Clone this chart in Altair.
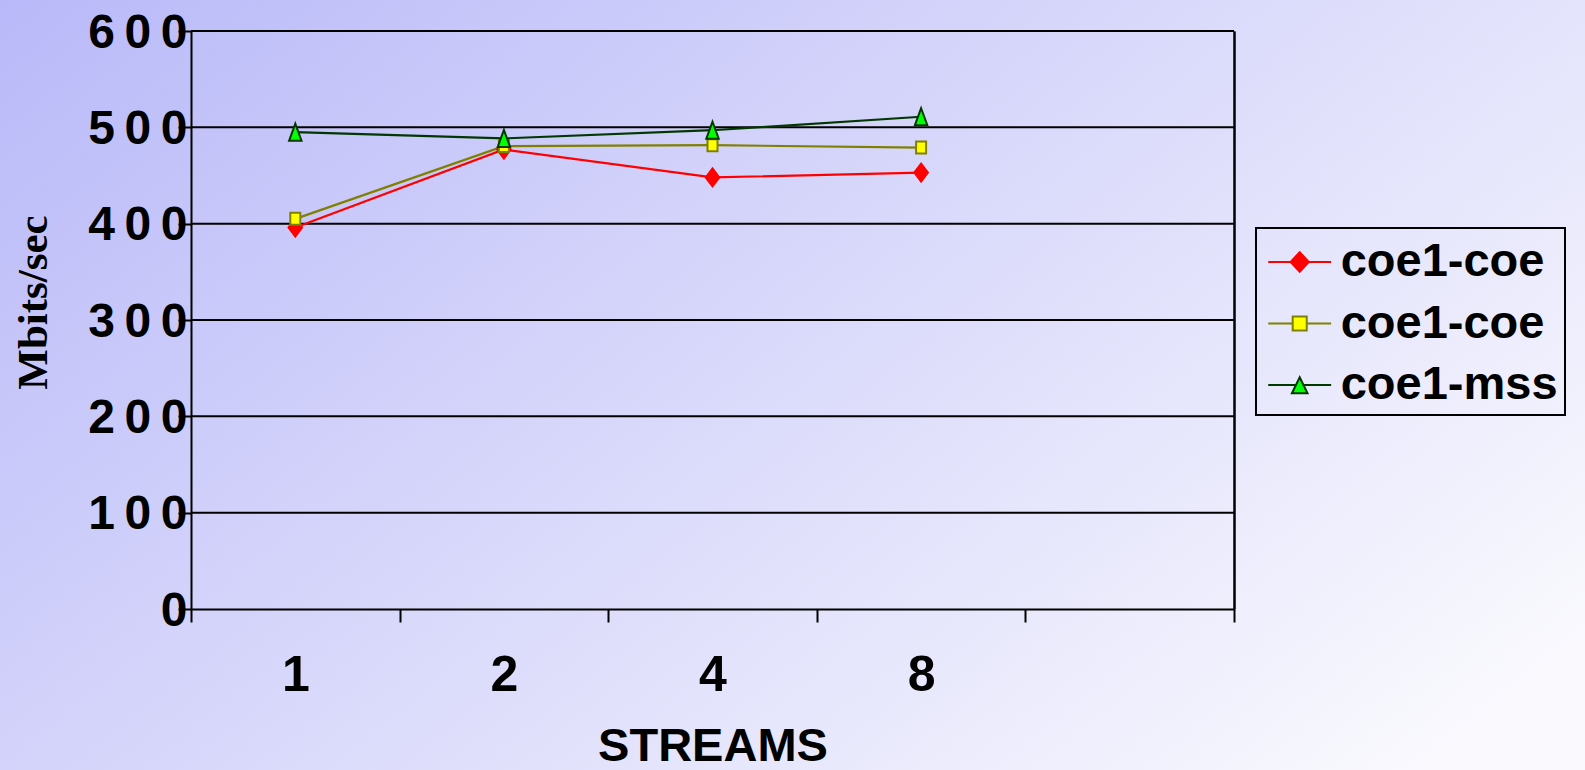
import altair as alt
import pandas as pd

# ---- data ----
streams = ["1", "2", "4", "8"]
x_categories = ["1", "2", "4", "8", " "]
series_names = ["coe1-coe2", "coe1-coe3", "coe1-mss1"]
red_vals = [396, 477, 448, 453]
yellow_vals = [405, 480.5, 481.5, 479]
green_vals = [495, 488.5, 497, 511]
grid_values = [100, 200, 300, 400, 500, 600]
y_ticks = [0, 100, 200, 300, 400, 500, 600]

# ---- styles ----
line_colors = ["#ff0000", "#808000", "#003800"]
fill_colors = ["#ff0000", "#ffff00", "#00ff00"]
stroke_colors = ["#ff0000", "#808000", "#003800"]
point_paths = [
    "M0,-0.9L0.68,0L0,0.9L-0.68,0Z",
    "M-0.5,-0.6L0.5,-0.6L0.5,0.6L-0.5,0.6Z",
    "M0,-0.85L0.62,0.85L-0.62,0.85Z",
]
legend_paths = [
    "M-1.21,0L1.21,0M0,-0.38L0.35,0L0,0.38L-0.35,0Z",
    "M-1.21,0L-0.27,0M0.27,0L1.21,0M-0.27,-0.27L0.27,-0.27L0.27,0.27L-0.27,0.27Z",
    "M-1.21,0L-0.16,0M0.16,0L1.21,0M0,-0.30L0.30,0.32L-0.30,0.32Z",
]

rows = []
for name, vals in zip(series_names, [red_vals, yellow_vals, green_vals]):
    for s, v in zip(streams, vals):
        rows.append({"series": name, "streams": s, "value": v})
df = pd.DataFrame(rows)

W, H = 1043, 578
PL, PT, PR, PB = 191, 31, 351, 161

xscale = alt.Scale(type="band", domain=x_categories, paddingInner=0, paddingOuter=0)
yscale = alt.Scale(domain=[0, 600], nice=False, zero=True)

THIN = "\u2009"

bg = alt.Chart(alt.Data(values=[{"k": 1}])).mark_rect(
    fill=alt.LinearGradient(
        gradient="linear",
        stops=[
            alt.GradientStop(color="#b9b9f9", offset=0),
            alt.GradientStop(color="#d9d9fb", offset=0.5),
            alt.GradientStop(color="#f9f9fe", offset=1),
        ],
        x1=0, y1=0, x2=1.1, y2=0.66,
    ),
    strokeWidth=0,
).encode(
    x=alt.value(-PL), x2=alt.value(W + PR),
    y=alt.value(-PT), y2=alt.value(H + PB),
)

left_axis = alt.Axis(
    orient="left", values=y_ticks, grid=False,
    domain=True, domainColor="black", domainWidth=2,
    ticks=True, tickColor="black", tickWidth=2, tickSize=13,
    labelFont="Liberation Sans", labelFontSize=48, labelFontWeight="bold",
    labelColor="black", labelAlign="right", labelBaseline="middle",
    labelPadding=-9, labelOffset=2,
    labelExpr="join(split(datum.label, ''), '" + THIN + "')",
    title="Mbits/sec", titleFont="Liberation Serif", titleFontSize=43,
    titleFontWeight="bold", titleColor="black", titleAngle=270,
    titleAlign="center", titleBaseline="middle", titleX=-158, titleY=271,
    zindex=1,
)

grid = alt.Chart(pd.DataFrame({"v": grid_values})).mark_rule(
    color="black", strokeWidth=2
).encode(y=alt.Y("v:Q", scale=yscale, axis=left_axis))

bottom_axis = alt.Axis(
    orient="bottom", tickBand="extent", grid=False,
    domain=True, domainColor="black", domainWidth=2,
    ticks=True, tickColor="black", tickWidth=2, tickSize=13,
    labelFont="Liberation Sans", labelFontSize=50, labelFontWeight="bold",
    labelColor="black", labelBaseline="alphabetic", labelPadding=68, labelAngle=0,
    title="STREAMS", titleFont="Liberation Sans", titleFontSize=47,
    titleFontWeight="bold", titleColor="black", titleBaseline="alphabetic",
    titleY=151, zindex=1,
)

right_axis = alt.Axis(
    orient="right", labels=False, ticks=False, grid=False,
    domain=True, domainColor="black", domainWidth=2, title=None, zindex=1,
)

lines = alt.Chart(df).mark_line(strokeWidth=2.2).encode(
    x=alt.X("streams:N", scale=xscale, axis=bottom_axis),
    y=alt.Y("value:Q", scale=yscale, axis=right_axis),
    color=alt.Color("series:N", scale=alt.Scale(domain=series_names, range=line_colors), legend=None),
)

points = alt.Chart(df).mark_point(filled=True, size=400, strokeWidth=2, opacity=1).encode(
    x=alt.X("streams:N", scale=xscale, axis=bottom_axis),
    y=alt.Y("value:Q", scale=yscale, axis=right_axis),
    shape=alt.Shape("series:N", scale=alt.Scale(domain=series_names, range=point_paths), legend=None),
    fill=alt.Fill("series:N", scale=alt.Scale(domain=series_names, range=fill_colors), legend=None),
    stroke=alt.Stroke("series:N", scale=alt.Scale(domain=series_names, range=stroke_colors), legend=None),
)

legend_def = alt.Legend(
    title=None, orient="none", legendX=1065, legendY=197, direction="vertical",
    padding=7, rowPadding=11.5, symbolSize=2704, symbolStrokeWidth=2,
    symbolOffset=9.7, labelOffset=14, symbolOpacity=1,
    labelFont="Liberation Sans", labelFontSize=47, labelFontWeight="bold",
    labelColor="black", labelLimit=3000,
    labelExpr="substring(datum.label, 0, 8)",
    strokeColor="black",
)

legend_layer = alt.Chart(df).transform_filter("false").mark_point(
    filled=True, strokeWidth=2, opacity=1
).encode(
    shape=alt.Shape("series:N", scale=alt.Scale(domain=series_names, range=legend_paths), legend=legend_def),
    fill=alt.Fill("series:N", scale=alt.Scale(domain=series_names, range=fill_colors), legend=legend_def),
    stroke=alt.Stroke("series:N", scale=alt.Scale(domain=series_names, range=stroke_colors), legend=legend_def),
)

chart = alt.layer(bg, grid, lines, points, legend_layer).resolve_scale(
    shape="independent", fill="independent", stroke="independent"
).properties(
    width=W, height=H,
    padding={"left": PL, "top": PT, "right": PR, "bottom": PB},
    autosize=alt.AutoSizeParams(type="none"),
    background="#d8d8fa",
).configure_view(stroke="transparent").configure_legend(strokeWidth=2)

chart.save("out.html", embed_options={"renderer": "svg", "actions": False})
